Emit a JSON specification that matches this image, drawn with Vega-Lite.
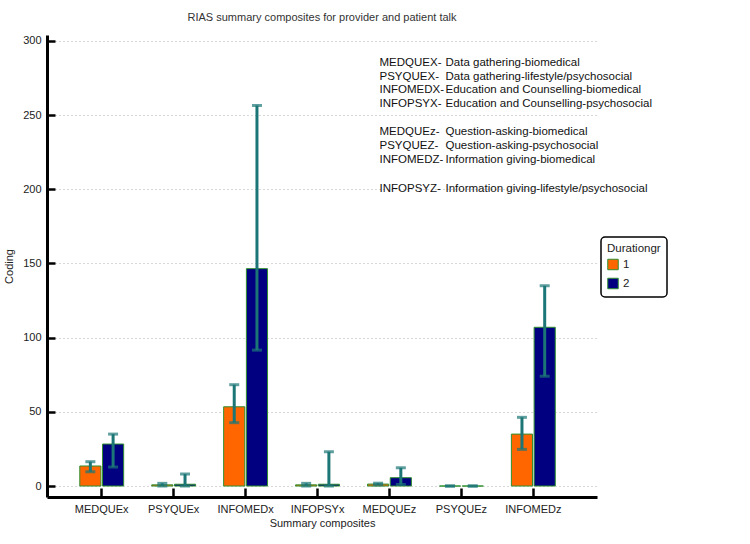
{
  "$schema": "https://vega.github.io/schema/vega-lite/v6.json",
  "width": 550,
  "height": 462,
  "autosize": "none",
  "padding": {"left": 47, "top": 35, "right": 153, "bottom": 47},
  "background": "white",
  "config": {
    "font": "Liberation Sans",
    "view": {"stroke": null},
    "axis": {"labelFont": "Liberation Sans", "titleFont": "Liberation Sans", "labelColor": "#222", "titleColor": "#222", "titleFontWeight": "normal", "titleFontSize": 11, "labelFontSize": 11},
    "legend": {"strokeWidth": 1.5}
  },
  "title": {"text": "RIAS summary composites for provider and patient talk", "fontSize": 11, "fontWeight": "normal", "color": "#333", "offset": 12, "anchor": "middle"},
  "resolve": {"axis": {"x": "independent", "y": "independent"}},
  "datasets": {
    "bars": [
      {"cat": "MEDQUEx", "grp": "1", "value": 13.5, "lo": 9.6, "hi": 16.4},
      {"cat": "MEDQUEx", "grp": "2", "value": 28.3, "lo": 12.8, "hi": 35},
      {"cat": "PSYQUEx", "grp": "1", "value": 0.8, "lo": 0, "hi": 1.8},
      {"cat": "PSYQUEx", "grp": "2", "value": 1.2, "lo": 0, "hi": 8.1},
      {"cat": "INFOMEDx", "grp": "1", "value": 53.4, "lo": 42.7, "hi": 68.3},
      {"cat": "INFOMEDx", "grp": "2", "value": 146.5, "lo": 91.6, "hi": 256.5},
      {"cat": "INFOPSYx", "grp": "1", "value": 0.8, "lo": 0, "hi": 1.8},
      {"cat": "INFOPSYx", "grp": "2", "value": 1.2, "lo": 0, "hi": 23.1},
      {"cat": "MEDQUEz", "grp": "1", "value": 1.3, "lo": 0.8, "hi": 1.9},
      {"cat": "MEDQUEz", "grp": "2", "value": 5.6, "lo": 1.0, "hi": 12.3},
      {"cat": "PSYQUEz", "grp": "1", "value": 0, "lo": 0, "hi": 0},
      {"cat": "PSYQUEz", "grp": "2", "value": 0, "lo": 0, "hi": 0},
      {"cat": "INFOMEDz", "grp": "1", "value": 35, "lo": 24.7, "hi": 46.3},
      {"cat": "INFOMEDz", "grp": "2", "value": 107, "lo": 74, "hi": 135}
    ],
    "notes": [
      {"code": "MEDQUEX-", "desc": "Data gathering-biomedical", "pos": 284.8},
      {"code": "PSYQUEX-", "desc": "Data gathering-lifestyle/psychosocial", "pos": 275.7},
      {"code": "INFOMEDX-", "desc": "Education and Counselling-biomedical", "pos": 266.9},
      {"code": "INFOPSYX-", "desc": "Education and Counselling-psychosocial", "pos": 257.2},
      {"code": "MEDQUEz-", "desc": "Question-asking-biomedical", "pos": 238.3},
      {"code": "PSYQUEZ-", "desc": "Question-asking-psychosocial", "pos": 228.9},
      {"code": "INFOMEDZ-", "desc": "Information giving-biomedical", "pos": 219.8},
      {"code": "INFOPSYZ-", "desc": "Information giving-lifestyle/psychosocial", "pos": 200.2}
    ]
  },
  "layer": [
    {
      "data": {"name": "bars"},
      "mark": {"type": "bar", "stroke": "#2f8f2f", "strokeWidth": 1},
      "encoding": {
        "x": {
          "field": "cat", "type": "nominal", "sort": null,
          "scale": {"domain": ["MEDQUEx", "PSYQUEx", "INFOMEDx", "INFOPSYx", "MEDQUEz", "PSYQUEz", "INFOMEDz"], "paddingInner": 0.39, "paddingOuter": 0.518, "align": 0.44},
          "axis": {"orient": "bottom", "title": "Summary composites", "labelAngle": 0, "domain": false, "offset": -9, "tickColor": "black", "tickWidth": 2.5, "tickSize": 8, "labelPadding": 7, "titlePadding": 3, "grid": false}
        },
        "xOffset": {"field": "grp", "type": "nominal", "scale": {"paddingInner": 0.07, "paddingOuter": 0}},
        "y": {
          "field": "value", "type": "quantitative",
          "scale": {"domain": [-7.4, 304], "nice": false, "zero": false},
          "axis": {"orient": "left", "title": "Coding", "values": [0, 50, 100, 150, 200, 250, 300], "domain": false, "offset": -8, "tickColor": "black", "tickWidth": 2.5, "tickSize": 7, "labelPadding": 7, "grid": true, "gridColor": "#b0b0b0", "gridDash": [1, 3], "gridWidth": 1, "titleX": -46, "titleBaseline": "middle"}
        },
        "y2": {"datum": 0},
        "fill": {
          "field": "grp", "type": "nominal",
          "scale": {"domain": ["1", "2"], "range": ["#ff6600", "#000080"]},
          "legend": {"title": "Durationgr", "orient": "none", "legendX": 554, "legendY": 202, "strokeColor": "black", "cornerRadius": 4, "padding": 6, "symbolType": "square", "symbolSize": 110, "symbolStrokeColor": "#2f8f2f", "symbolStrokeWidth": 1, "titleFontWeight": "normal", "titleFontSize": 11.5, "labelFontSize": 11.5, "titleFont": "Liberation Sans", "labelFont": "Liberation Sans", "titleColor": "#222", "labelColor": "#222", "rowPadding": 3, "titlePadding": 4, "fillColor": "white"}
        }
      }
    },
    {
      "data": {"name": "bars"},
      "mark": {"type": "rule", "color": "#1c7676", "strokeWidth": 3},
      "encoding": {
        "x": {"field": "cat", "type": "nominal", "sort": null, "axis": {"orient": "bottom", "domain": true, "domainColor": "black", "domainWidth": 3, "ticks": false, "labels": false, "title": null, "grid": false}},
        "xOffset": {"field": "grp", "type": "nominal", "scale": {"paddingInner": 0.07, "paddingOuter": 0}},
        "y": {"field": "lo", "type": "quantitative", "axis": {"orient": "left", "domain": true, "domainColor": "black", "domainWidth": 3, "ticks": false, "labels": false, "title": null, "grid": false}},
        "y2": {"field": "hi"}
      }
    },
    {
      "data": {"name": "bars"},
      "mark": {"type": "tick", "color": "#1c7676", "thickness": 3, "size": 10, "orient": "horizontal"},
      "encoding": {
        "x": {"field": "cat", "type": "nominal", "sort": null, "axis": null},
        "xOffset": {"field": "grp", "type": "nominal", "scale": {"paddingInner": 0.07, "paddingOuter": 0}},
        "y": {"field": "lo", "type": "quantitative", "axis": null}
      }
    },
    {
      "data": {"name": "bars"},
      "mark": {"type": "tick", "color": "#1c7676", "thickness": 3, "size": 10, "orient": "horizontal"},
      "encoding": {
        "x": {"field": "cat", "type": "nominal", "sort": null, "axis": null},
        "xOffset": {"field": "grp", "type": "nominal", "scale": {"paddingInner": 0.07, "paddingOuter": 0}},
        "y": {"field": "hi", "type": "quantitative", "axis": null}
      }
    },
    {
      "data": {"name": "notes"},
      "mark": {"type": "text", "align": "left", "baseline": "middle", "dx": 62, "fontSize": 11.5, "color": "#111", "font": "Liberation Sans"},
      "encoding": {
        "x": {"datum": "INFOPSYx", "type": "nominal", "axis": null},
        "y": {"field": "pos", "type": "quantitative", "axis": null},
        "text": {"field": "code"}
      }
    },
    {
      "data": {"name": "notes"},
      "mark": {"type": "text", "align": "left", "baseline": "middle", "dx": 128, "fontSize": 11.5, "color": "#111", "font": "Liberation Sans"},
      "encoding": {
        "x": {"datum": "INFOPSYx", "type": "nominal", "axis": null},
        "y": {"field": "pos", "type": "quantitative", "axis": null},
        "text": {"field": "desc"}
      }
    }
  ]
}
